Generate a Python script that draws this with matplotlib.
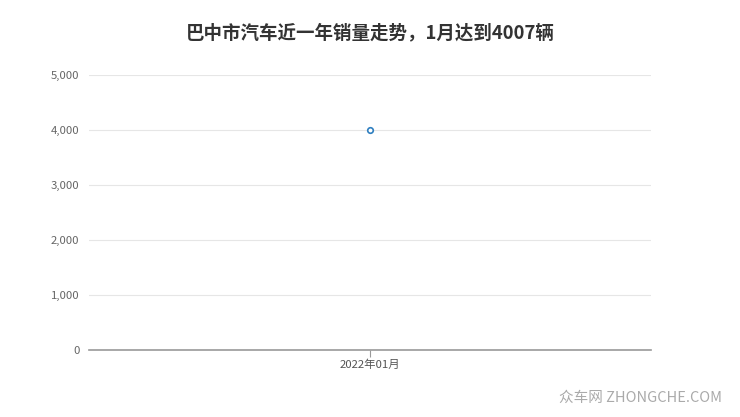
import matplotlib
matplotlib.use("Agg")
import matplotlib.pyplot as plt
from matplotlib.ticker import FuncFormatter

plt.rcParams['font.family'] = ['Noto Sans CJK SC', 'DejaVu Sans']

title = "巴中市汽车近一年销量走势，1月达到4007辆"
months = ["2022年01月"]
sales = [4007]
yticks = [0, 1000, 2000, 3000, 4000, 5000]

fig = plt.figure(figsize=(7.4, 4.17), dpi=100)
ax = fig.add_axes([0.1203, 0.1607, 0.7594, 0.6594])

x = list(range(len(months)))
ax.plot(x, sales, color="#2f7fc0", linewidth=1.5, marker="o", markersize=4,
        markerfacecolor="white", markeredgecolor="#2f7fc0", markeredgewidth=1.2,
        zorder=3)

ax.set_xlim(-0.5, 0.5)
ax.set_ylim(0, 5000)
ax.set_yticks(yticks)
ax.yaxis.set_major_formatter(FuncFormatter(lambda v, p: f"{int(v):,}"))
ax.set_xticks(x)
ax.set_xticklabels(months)

ax.grid(axis="y", color="#e6e6e6", linewidth=0.8)
ax.set_axisbelow(True)
for s in ["top", "right", "left"]:
    ax.spines[s].set_visible(False)
ax.spines["bottom"].set_color("#999999")
ax.spines["bottom"].set_linewidth(1.2)

ax.tick_params(axis="y", length=0, labelsize=8.2, labelcolor="#666666", pad=7)
ax.tick_params(axis="x", length=5, color="#999999", labelsize=8.2,
               labelcolor="#555555", pad=2)

fig.text(0.5, 0.922, title, ha="center", va="center", fontsize=13.3,
         fontweight="bold", color="#333333")
fig.text(0.976, 0.045, "众车网 ZHONGCHE.COM", ha="right", va="center",
         fontsize=10.5, color="#aaaaaa")

fig.savefig("out.png", dpi=100)
